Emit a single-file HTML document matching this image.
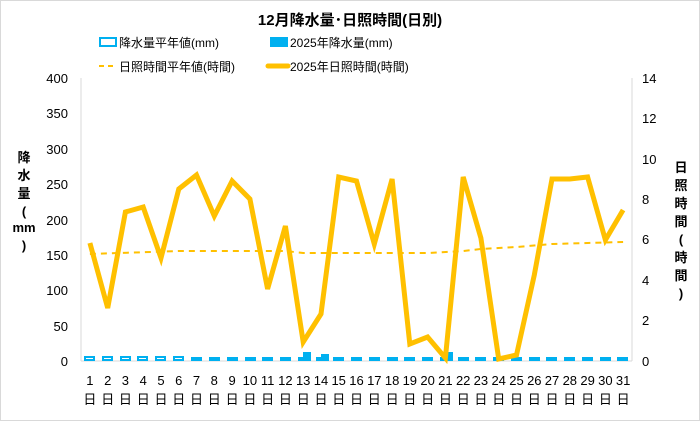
<!DOCTYPE html>
<html><head><meta charset="utf-8"><style>
body{margin:0;background:#fff}
svg{display:block;font-family:"Liberation Sans","Noto Sans CJK JP",sans-serif}
</style></head><body>
<svg width="700" height="421" viewBox="0 0 700 421">
<rect x="0.5" y="0.5" width="699" height="420" fill="#fff" stroke="#d9d9d9"/>
<text x="350" y="25" text-anchor="middle" font-size="15" font-weight="bold" fill="#000">12月降水量･日照時間(日別)</text>
<rect x="100" y="38" width="16" height="8" fill="#fff" stroke="#00b0f0" stroke-width="2"/>
<text x="119" y="47" font-size="12">降水量平年値(mm)</text>
<rect x="270" y="37" width="18" height="10" fill="#00b0f0"/>
<text x="290" y="47" font-size="12">2025年降水量(mm)</text>
<line x1="99" y1="66" x2="117" y2="66" stroke="#ffc000" stroke-width="2" stroke-dasharray="5,4"/>
<text x="119" y="71" font-size="12">日照時間平年値(時間)</text>
<line x1="268" y1="66" x2="288" y2="66" stroke="#ffc000" stroke-width="5" stroke-linecap="round"/>
<text x="290" y="71" font-size="12">2025年日照時間(時間)</text>
<g font-size="13" fill="#000" text-anchor="end">
<text x="68" y="83">400</text><text x="68" y="118">350</text><text x="68" y="154">300</text><text x="68" y="189">250</text><text x="68" y="225">200</text><text x="68" y="260">150</text><text x="68" y="295">100</text><text x="68" y="331">50</text><text x="68" y="366">0</text>
</g>
<g font-size="13" fill="#000" text-anchor="start">
<text x="642" y="83">14</text><text x="642" y="123">12</text><text x="642" y="164">10</text><text x="642" y="204">8</text><text x="642" y="244">6</text><text x="642" y="285">4</text><text x="642" y="325">2</text><text x="642" y="366">0</text>
</g>
<g font-size="13" font-weight="bold" text-anchor="middle">
<text x="24" y="162">降</text><text x="24" y="180">水</text><text x="24" y="198">量</text><text x="24" y="216">(</text><text x="24" y="232">mm</text><text x="24" y="250">)</text>
<text x="681" y="172">日</text><text x="681" y="190">照</text><text x="681" y="208">時</text><text x="681" y="226">間</text><text x="681" y="244">(</text><text x="681" y="262">時</text><text x="681" y="280">間</text><text x="681" y="298">)</text>
</g>
<line x1="81" y1="78" x2="81" y2="361" stroke="#d9d9d9"/>
<line x1="632" y1="78" x2="632" y2="361" stroke="#d9d9d9"/>
<line x1="81" y1="361" x2="632" y2="361" stroke="#d9d9d9"/>
<g fill="#fff" stroke="#00b0f0" stroke-width="2">
<rect x="85" y="357" width="9" height="3"/><rect x="103" y="357" width="9" height="3"/><rect x="121" y="357" width="9" height="3"/><rect x="138" y="357" width="9" height="3"/><rect x="156" y="357" width="9" height="3"/><rect x="174" y="357" width="9" height="3"/>
</g>
<g fill="#00b0f0">
<rect x="191" y="357" width="11" height="4"/><rect x="209" y="357" width="11" height="4"/><rect x="227" y="357" width="11" height="4"/><rect x="245" y="357" width="11" height="4"/><rect x="262" y="357" width="11" height="4"/><rect x="280" y="357" width="11" height="4"/>
<rect x="298" y="357" width="11" height="4"/><rect x="303" y="352" width="8" height="9"/><rect x="316" y="357" width="11" height="4"/><rect x="321" y="354" width="8" height="7"/>
<rect x="333" y="357" width="11" height="4"/><rect x="351" y="357" width="11" height="4"/><rect x="369" y="357" width="11" height="4"/><rect x="387" y="357" width="11" height="4"/><rect x="404" y="357" width="11" height="4"/><rect x="422" y="357" width="11" height="4"/>
<rect x="440" y="357" width="11" height="4"/><rect x="445" y="352" width="8" height="9"/><rect x="458" y="357" width="11" height="4"/><rect x="475" y="357" width="11" height="4"/><rect x="493" y="357" width="11" height="4"/><rect x="511" y="357" width="11" height="4"/><rect x="529" y="357" width="11" height="4"/><rect x="546" y="357" width="11" height="4"/><rect x="564" y="357" width="11" height="4"/><rect x="582" y="357" width="11" height="4"/><rect x="600" y="357" width="11" height="4"/><rect x="617" y="357" width="11" height="4"/>
</g>
<polyline fill="none" stroke="#ffc000" stroke-width="2" stroke-dasharray="6,5" points="89.9,254 178.8,251 285.4,251 303.2,253 427.6,253 463.2,251 480.9,249 516.5,247 552,244 587.6,243 623.1,242"/>
<polyline fill="none" stroke="#ffc000" stroke-width="5" stroke-linejoin="miter" points="89.9,243 107.7,308 125.4,212 143.2,207 161,258 178.8,189 196.5,175 214.3,216 232.1,181 249.9,199 267.6,289 285.4,226 303.2,342 321,314 338.7,177 356.5,181 374.3,244 392.1,179 409.8,344 427.6,337 445.4,358 463.2,177 480.9,238 498.7,359 516.5,355 534.3,275 552,179 569.8,179 587.6,177 605.4,240 623.1,210"/>
<g font-size="13" text-anchor="middle">
<text x="89.9" y="385">1</text><text x="107.7" y="385">2</text><text x="125.4" y="385">3</text><text x="143.2" y="385">4</text><text x="161" y="385">5</text><text x="178.8" y="385">6</text><text x="196.5" y="385">7</text><text x="214.3" y="385">8</text><text x="232.1" y="385">9</text><text x="249.9" y="385">10</text><text x="267.6" y="385">11</text><text x="285.4" y="385">12</text><text x="303.2" y="385">13</text><text x="321" y="385">14</text><text x="338.7" y="385">15</text><text x="356.5" y="385">16</text><text x="374.3" y="385">17</text><text x="392.1" y="385">18</text><text x="409.8" y="385">19</text><text x="427.6" y="385">20</text><text x="445.4" y="385">21</text><text x="463.2" y="385">22</text><text x="480.9" y="385">23</text><text x="498.7" y="385">24</text><text x="516.5" y="385">25</text><text x="534.3" y="385">26</text><text x="552" y="385">27</text><text x="569.8" y="385">28</text><text x="587.6" y="385">29</text><text x="605.4" y="385">30</text><text x="623.1" y="385">31</text>
</g>
<g font-size="13" text-anchor="middle">
<text x="89.9" y="404">日</text><text x="107.7" y="404">日</text><text x="125.4" y="404">日</text><text x="143.2" y="404">日</text><text x="161" y="404">日</text><text x="178.8" y="404">日</text><text x="196.5" y="404">日</text><text x="214.3" y="404">日</text><text x="232.1" y="404">日</text><text x="249.9" y="404">日</text><text x="267.6" y="404">日</text><text x="285.4" y="404">日</text><text x="303.2" y="404">日</text><text x="321" y="404">日</text><text x="338.7" y="404">日</text><text x="356.5" y="404">日</text><text x="374.3" y="404">日</text><text x="392.1" y="404">日</text><text x="409.8" y="404">日</text><text x="427.6" y="404">日</text><text x="445.4" y="404">日</text><text x="463.2" y="404">日</text><text x="480.9" y="404">日</text><text x="498.7" y="404">日</text><text x="516.5" y="404">日</text><text x="534.3" y="404">日</text><text x="552" y="404">日</text><text x="569.8" y="404">日</text><text x="587.6" y="404">日</text><text x="605.4" y="404">日</text><text x="623.1" y="404">日</text>
</g>
</svg>
</body></html>
